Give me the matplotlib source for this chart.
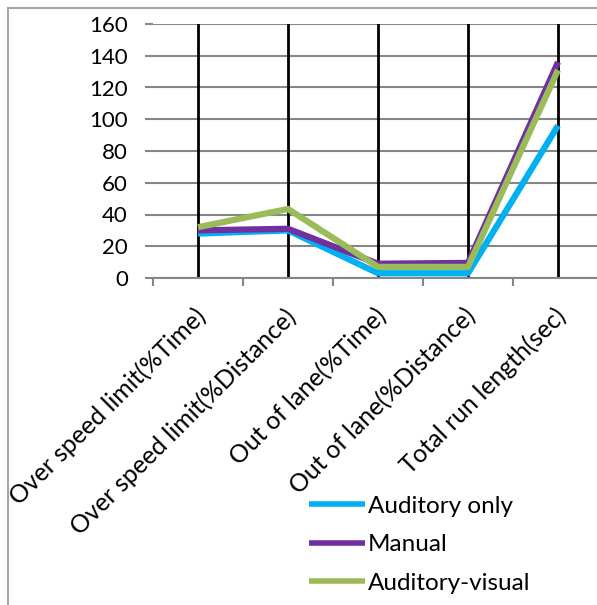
import numpy as np
import matplotlib
matplotlib.use("Agg")
from matplotlib import pyplot as plt
from matplotlib.lines import Line2D
from matplotlib.transforms import ScaledTranslation

categories = ["Over speed limit(%Time)", "Over speed limit(%Distance)",
              "Out of lane(%Time)", "Out of lane(%Distance)", "Total run length(sec)"]
auditory_only = [28, 30, 3, 3, 96]
manual = [30, 31, 9, 9.5, 136]
auditory_visual = [32, 43.5, 7, 7, 131]
series_names = ["Auditory only", "Manual", "Auditory-visual"]
series_colors = ["#00B0F0", "#7030A0", "#9BBB59"]
y_ticks = [0, 20, 40, 60, 80, 100, 120, 140, 160]

plt.rcParams['font.family'] = ['Lato', 'DejaVu Sans']

fig = plt.figure(figsize=(5.97, 6.05), dpi=100)
ax = fig.add_axes([153 / 597, 1 - 278 / 605, 450 / 597, 254 / 605])

x = np.arange(len(categories))
for i in x:
    ax.axvline(i, color="black", lw=2, zorder=1)
for ys, name, col in zip([auditory_only, manual, auditory_visual], series_names, series_colors):
    ax.plot(x, ys, color=col, lw=4.5, label=name, solid_capstyle="butt", zorder=3)

ax.set_xlim(-0.5, len(categories) - 0.5)
ax.set_ylim(0, 160)
ax.set_yticks(y_ticks)
ax.yaxis.grid(True, color="#868686", lw=1.5)
ax.set_axisbelow(True)
for s in ["top", "right", "left"]:
    ax.spines[s].set_visible(False)
ax.spines["bottom"].set_color("#868686")
ax.spines["bottom"].set_linewidth(1.5)

ax.tick_params(axis="y", length=6, width=1.5, color="#868686", pad=12, labelsize=16)
ax.set_xticks(x)
ax.set_xticklabels(categories, rotation=45, ha="right", rotation_mode="anchor", fontsize=17.8)
ax.tick_params(axis="x", which="major", length=0, pad=19)
ax.set_xticks(np.arange(-0.5, len(categories)), minor=True)
ax.tick_params(axis="x", which="minor", length=6, width=1.5, color="#868686")

for lbl in ax.get_xticklabels():
    lbl.set_transform(lbl.get_transform() + ScaledTranslation(-0.04, 0, fig.dpi_scale_trans))

leg = fig.legend(loc="upper left", bbox_to_anchor=(287 / 597, 1 - 474 / 605), frameon=False,
                 fontsize=17.5, handlelength=2.3, handletextpad=0.12, labelspacing=0.72)
for h in leg.get_lines():
    h.set_linewidth(4)

fig.add_artist(Line2D([8 / 597, 8 / 597], [0, 1 - 8 / 605], color="#A6A6A6", lw=1.5))
fig.add_artist(Line2D([8 / 597, 1], [1 - 8 / 605, 1 - 8 / 605], color="#A6A6A6", lw=1.5))

fig.savefig("out.png", dpi=100)
